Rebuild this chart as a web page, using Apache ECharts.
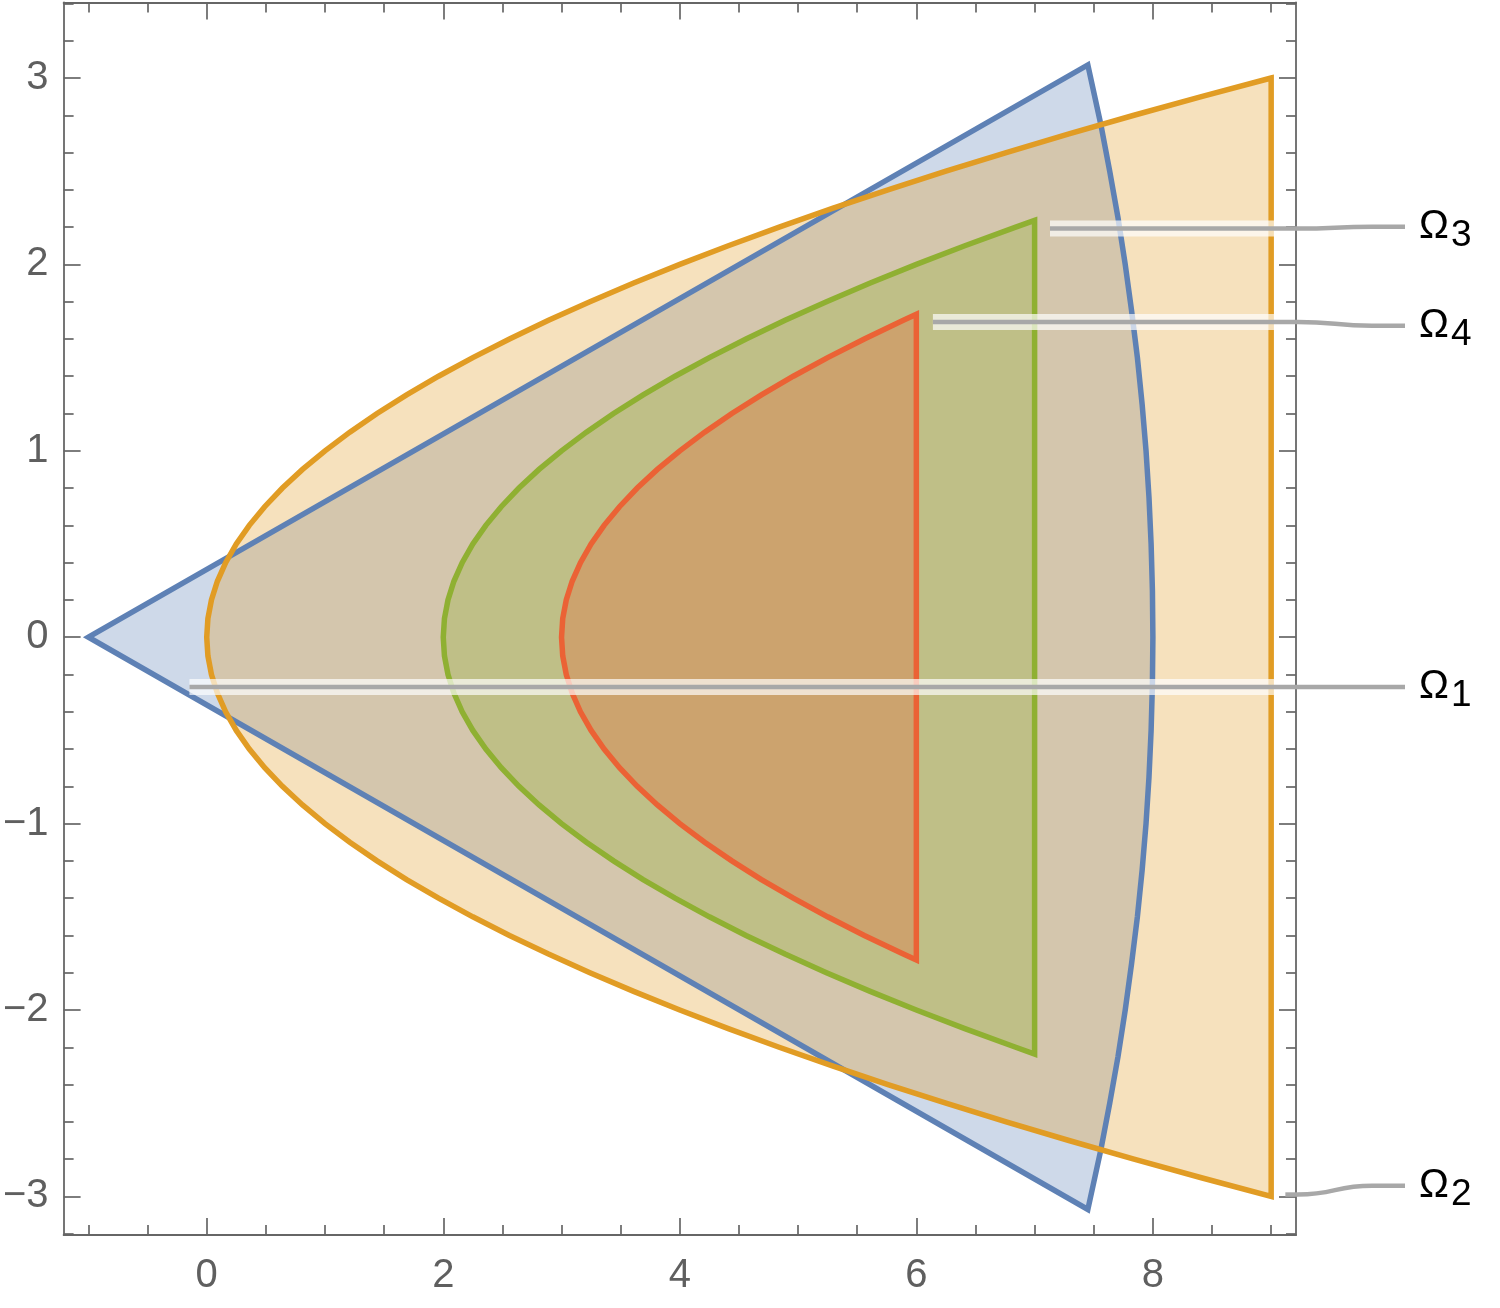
<!DOCTYPE html>
<html><head><meta charset="utf-8">
<script src="https://cdn.jsdelivr.net/npm/echarts@6/dist/echarts.min.js"></script>
<style>html,body{margin:0;padding:0;background:#fff}#c{width:1500px;height:1308px}</style>
</head><body><div id="c"></div>
<script>
// ---- data: boundary points (x, y) ----
const omega1 = [[-1,0],[7.45,3.07],[7.56,2.75],[7.635,2.5],[7.705,2.25],[7.766,2.0],[7.82,1.75],[7.869,1.5],[7.909,1.25],
  [7.942,1.0],[7.967,0.75],[7.985,0.5],[7.996,0.25],[8.0,0],[7.996,-0.25],[7.985,-0.5],[7.967,-0.75],[7.942,-1.0],
  [7.909,-1.25],[7.869,-1.5],[7.82,-1.75],[7.766,-2.0],[7.705,-2.25],[7.635,-2.5],[7.56,-2.75],[7.45,-3.07]];
const omega2 = [[9,3],[8.41,2.9],[7.84,2.8],[7.29,2.7],[6.76,2.6],[6.25,2.5],[5.76,2.4],[5.29,2.3],[4.84,2.2],[4.41,2.1],
  [4,2],[3.61,1.9],[3.24,1.8],[2.89,1.7],[2.56,1.6],[2.25,1.5],[1.96,1.4],[1.69,1.3],[1.44,1.2],[1.21,1.1],[1,1],
  [0.81,0.9],[0.64,0.8],[0.49,0.7],[0.36,0.6],[0.25,0.5],[0.16,0.4],[0.09,0.3],[0.04,0.2],[0.01,0.1],[0,0],
  [0.01,-0.1],[0.04,-0.2],[0.09,-0.3],[0.16,-0.4],[0.25,-0.5],[0.36,-0.6],[0.49,-0.7],[0.64,-0.8],[0.81,-0.9],
  [1,-1],[1.21,-1.1],[1.44,-1.2],[1.69,-1.3],[1.96,-1.4],[2.25,-1.5],[2.56,-1.6],[2.89,-1.7],[3.24,-1.8],[3.61,-1.9],
  [4,-2],[4.41,-2.1],[4.84,-2.2],[5.29,-2.3],[5.76,-2.4],[6.25,-2.5],[6.76,-2.6],[7.29,-2.7],[7.84,-2.8],[8.41,-2.9],[9,-3]];
const omega3 = [[7,2.236],[6.84,2.2],[6.41,2.1],[6,2],[5.61,1.9],[5.24,1.8],[4.89,1.7],[4.56,1.6],[4.25,1.5],[3.96,1.4],
  [3.69,1.3],[3.44,1.2],[3.21,1.1],[3,1],[2.81,0.9],[2.64,0.8],[2.49,0.7],[2.36,0.6],[2.25,0.5],[2.16,0.4],[2.09,0.3],
  [2.04,0.2],[2.01,0.1],[2,0],[2.01,-0.1],[2.04,-0.2],[2.09,-0.3],[2.16,-0.4],[2.25,-0.5],[2.36,-0.6],[2.49,-0.7],
  [2.64,-0.8],[2.81,-0.9],[3,-1],[3.21,-1.1],[3.44,-1.2],[3.69,-1.3],[3.96,-1.4],[4.25,-1.5],[4.56,-1.6],[4.89,-1.7],
  [5.24,-1.8],[5.61,-1.9],[6,-2],[6.41,-2.1],[6.84,-2.2],[7,-2.236]];
const omega4 = [[6,1.732],[5.89,1.7],[5.56,1.6],[5.25,1.5],[4.96,1.4],[4.69,1.3],[4.44,1.2],[4.21,1.1],[4,1],[3.81,0.9],
  [3.64,0.8],[3.49,0.7],[3.36,0.6],[3.25,0.5],[3.16,0.4],[3.09,0.3],[3.04,0.2],[3.01,0.1],[3,0],[3.01,-0.1],[3.04,-0.2],
  [3.09,-0.3],[3.16,-0.4],[3.25,-0.5],[3.36,-0.6],[3.49,-0.7],[3.64,-0.8],[3.81,-0.9],[4,-1],[4.21,-1.1],[4.44,-1.2],
  [4.69,-1.3],[4.96,-1.4],[5.25,-1.5],[5.56,-1.6],[5.89,-1.7],[6,-1.732]];

const calloutSub     = ['1', '2', '3', '4'];
const calloutAnchorX = [-0.146, 9.12, 7.13, 6.14];
const calloutAnchorY = [-0.267, -2.99, 2.192, 1.691];
const calloutLabelY  = [-0.267, -2.943, 2.202, 1.671];

const xMajorTicks = [0, 2, 4, 6, 8];
const xMinorTicks = [-1, -0.5, 0.5, 1, 1.5, 2.5, 3, 3.5, 4.5, 5, 5.5, 6.5, 7, 7.5, 8.5, 9];
const yMajorTicks = [-3, -2, -1, 0, 1, 2, 3];
const yMinorTicks = [-3.2, -2.8, -2.6, -2.4, -2.2, -1.8, -1.6, -1.4, -1.2, -0.8, -0.6, -0.4, -0.2,
  0.2, 0.4, 0.6, 0.8, 1.2, 1.4, 1.6, 1.8, 2.2, 2.4, 2.6, 2.8, 3.2, 3.4];
const xRange = [-1.21, 9.21];
const yRange = [-3.207, 3.405];

// ---- styling ----
const FONT = '"Liberation Sans", Arial, sans-serif';
const AX = '#666';
const colors = ['#5E81B5', '#E19C24', '#8FB032', '#EB6235'];
const regions = [omega1, omega2, omega3, omega4];
const fmt = v => String(v).replace('-', '\u2212');

function makeX(pos, ticks, len, line, labels) {
  return {
    type: 'value', min: xRange[0], max: xRange[1], position: pos, gridIndex: 0,
    axisLine: { show: line, onZero: false, lineStyle: { color: AX, width: 1.8 } },
    axisTick: { show: true, inside: true, length: len, customValues: ticks, lineStyle: { color: AX, width: 1.7 } },
    axisLabel: { show: labels, customValues: ticks, formatter: fmt, fontSize: 40, color: '#5f5f5f', fontFamily: FONT, margin: 21 },
    splitLine: { show: false }, minorTick: { show: false }
  };
}
function makeY(pos, ticks, len, line, labels) {
  return {
    type: 'value', min: yRange[0], max: yRange[1], position: pos, gridIndex: 0,
    axisLine: { show: line, onZero: false, lineStyle: { color: AX, width: 1.8 } },
    axisTick: { show: true, inside: true, length: len, customValues: ticks, lineStyle: { color: AX, width: 1.7 } },
    axisLabel: { show: labels, customValues: ticks, formatter: fmt, fontSize: 40, color: '#5f5f5f', fontFamily: FONT, margin: 15 },
    splitLine: { show: false }, minorTick: { show: false }
  };
}

function regionSeries(idx, kind) {
  const pts = regions[idx];
  return {
    type: 'custom', coordinateSystem: 'cartesian2d', xAxisIndex: 0, yAxisIndex: 0,
    silent: true, animation: false, data: pts,
    renderItem: function (params, api) {
      if (params.dataIndex !== 0) return null;
      const points = pts.map(p => api.coord(p));
      return {
        type: 'polygon', shape: { points: points },
        style: kind === 'fill'
          ? { fill: colors[idx], opacity: 0.3, stroke: null }
          : { fill: null, stroke: colors[idx], lineWidth: 5.5, lineJoin: 'miter' }
      };
    }
  };
}

const calloutData = calloutSub.map((s, i) => [calloutAnchorX[i], calloutAnchorY[i], calloutLabelY[i]]);

const calloutSeries = {
  type: 'custom', coordinateSystem: 'cartesian2d', xAxisIndex: 0, yAxisIndex: 0,
  silent: true, animation: false, clip: false,
  data: calloutData,
  renderItem: function (params, api) {
    const i = params.dataIndex;
    const p0 = api.coord([api.value(0), api.value(1)]);
    const yL = api.coord([0, api.value(2)])[1];
    const haloEnd = api.coord([9.03, 0])[0];
    const frameX = api.coord([xRange[1], 0])[0];
    const children = [];
    if (p0[0] < haloEnd) {
      children.push({ type: 'line', shape: { x1: p0[0], y1: p0[1], x2: haloEnd, y2: p0[1] },
        style: { stroke: 'rgba(255,255,255,0.68)', lineWidth: 16, lineCap: 'butt' } });
    }
    const xa = Math.max(p0[0], frameX + 2);
    const xb = frameX + 76;
    const xe = frameX + 109;
    const g = { stroke: '#a8a8a8', lineWidth: 4.5, fill: null, lineCap: 'butt' };
    children.push({ type: 'line', shape: { x1: p0[0], y1: p0[1], x2: xa, y2: p0[1] }, style: g });
    children.push({ type: 'bezierCurve', shape: { x1: xa, y1: p0[1], x2: xb, y2: yL,
      cpx1: (xa + xb) / 2, cpy1: p0[1], cpx2: (xa + xb) / 2, cpy2: yL }, style: g });
    children.push({ type: 'line', shape: { x1: xb, y1: yL, x2: xe, y2: yL }, style: g });
    children.push({ type: 'text', x: frameX + 123, y: yL,
      style: { text: '\u03A9', fontSize: 40, fontFamily: FONT, fill: '#000', align: 'left', verticalAlign: 'middle' } });
    children.push({ type: 'text', x: frameX + 155, y: yL + 9,
      style: { text: calloutSub[i], fontSize: 37, fontFamily: FONT, fill: '#000', align: 'left', verticalAlign: 'middle' } });
    return { type: 'group', children: children };
  }
};

const chart = echarts.init(document.getElementById('c'), null, { renderer: 'canvas' });
chart.setOption({
  animation: false,
  backgroundColor: '#fff',
  grid: { left: 62, right: 204, top: 2.5, bottom: 73, containLabel: false },
  xAxis: [
    makeX('bottom', xMajorTicks, 17, true, true),
    makeX('bottom', xMinorTicks, 10, false, false),
    makeX('top', xMajorTicks, 17, true, false),
    makeX('top', xMinorTicks, 10, false, false)
  ],
  yAxis: [
    makeY('left', yMajorTicks, 17, true, true),
    makeY('left', yMinorTicks, 10, false, false),
    makeY('right', yMajorTicks, 17, true, false),
    makeY('right', yMinorTicks, 10, false, false)
  ],
  series: [
    regionSeries(0, 'fill'), regionSeries(1, 'fill'), regionSeries(2, 'fill'), regionSeries(3, 'fill'),
    regionSeries(0, 'stroke'), regionSeries(1, 'stroke'), regionSeries(2, 'stroke'), regionSeries(3, 'stroke'),
    calloutSeries
  ]
});
</script></body></html>
